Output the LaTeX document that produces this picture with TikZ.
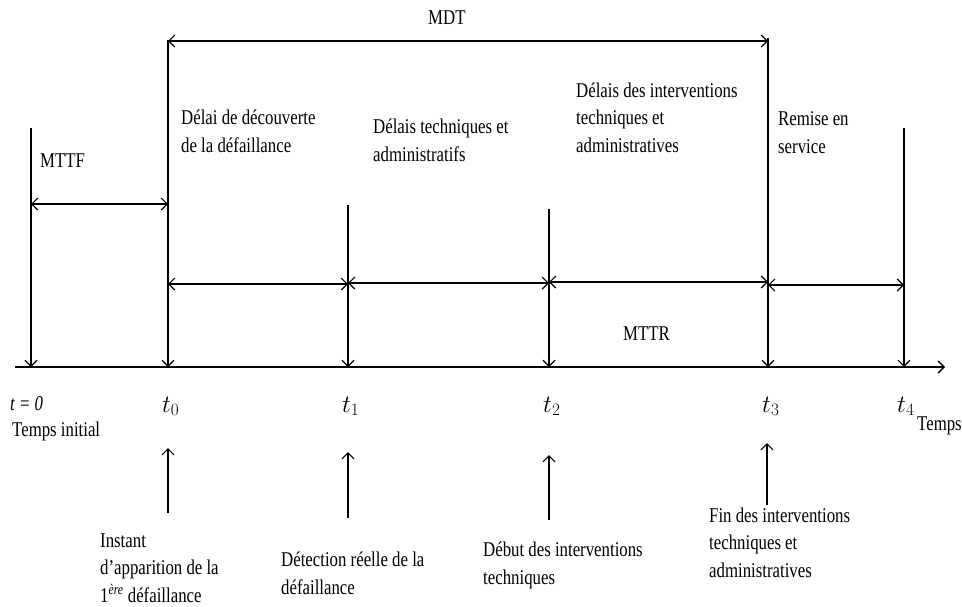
\documentclass[tikz,border=0pt]{standalone}
\usepackage{fontspec}
\setmainfont[FakeStretch=0.8]{Liberation Serif}
\usetikzlibrary{arrows.meta}

\tikzset{
  barb/.tip={Straight Barb[length=6pt,width=12pt]},
  axisline/.style={line width=1.3pt, -barb},
  tick/.style={line width=1.2pt, -barb},
  span/.style={line width=1.2pt, barb-barb},
  % multi-line labels are placed by the baseline of their last line
  lbl/.style={inner sep=0pt, anchor=base west, align=left,
              font=\fontsize{21}{27.5}\selectfont},
  tlbl/.style={lbl, font=\fontsize{24}{28}\selectfont},
}

\begin{document}
\begin{tikzpicture}[x=1pt,y=-1pt]
\useasboundingbox (0,0) rectangle (962,606);

% time axis
\coordinate (A0) at (15,367);
\coordinate (A1) at (945,367);
\draw[axisline] (A0) -- (A1);

% instants on the axis and the tops of their markers
\coordinate (T)  at (31,367);  \coordinate (Ttop)  at (31,128);
\coordinate (T0) at (168,367); \coordinate (T0top) at (168,40);
\coordinate (T1) at (348,367); \coordinate (T1top) at (348,205);
\coordinate (T2) at (549,367); \coordinate (T2top) at (549,209);
\coordinate (T3) at (768,367); \coordinate (T3top) at (768,38);
\coordinate (T4) at (904,367); \coordinate (T4top) at (904,128);

\draw[tick] (Ttop)  -- (T);
\draw[tick] (T0top) -- (T0);
\draw[tick] (T1top) -- (T1);
\draw[tick] (T2top) -- (T2);
\draw[tick] (T3top) -- (T3);
\draw[tick] (T4top) -- (T4);

% durations
\coordinate (mttfL) at (31,204);  \coordinate (mttfR) at (168,204);
\draw[span] (mttfL) -- (mttfR);
\coordinate (mdtL) at (168,41);   \coordinate (mdtR) at (768,41);
\draw[span] (mdtL) -- (mdtR);
\coordinate (sA0) at (168,284); \coordinate (sA1) at (348,284);
\coordinate (sB0) at (348,283); \coordinate (sB1) at (549,283);
\coordinate (sC0) at (549,282); \coordinate (sC1) at (768,282);
\coordinate (sD0) at (768,285); \coordinate (sD1) at (904,285);
\draw[span] (sA0) -- (sA1);
\draw[span] (sB0) -- (sB1);
\draw[span] (sC0) -- (sC1);
\draw[span] (sD0) -- (sD1);

% event pointers below the axis
\coordinate (u0a) at (168,513); \coordinate (u0b) at (168,448);
\coordinate (u1a) at (348,518); \coordinate (u1b) at (348,452);
\coordinate (u2a) at (549,520); \coordinate (u2b) at (549,455);
\coordinate (u3a) at (767,505); \coordinate (u3b) at (767,443);
\draw[tick] (u0a) -- (u0b);
\draw[tick] (u1a) -- (u1b);
\draw[tick] (u2a) -- (u2b);
\draw[tick] (u3a) -- (u3b);

% labels above the axis
\node[lbl] (mdt)  at (428,24)  {MDT};
\node[lbl] (mttf) at (40,167)  {MTTF};
\node[lbl] (d1)   at (181,152) {Délai de découverte\\de la défaillance};
\node[lbl] (d2)   at (373,161) {Délais techniques et\\administratifs};
\node[lbl] (d3)   at (576,152) {Délais des interventions\\techniques et\\administratives};
\node[lbl] (d4)   at (778,153) {Remise en\\service};
\node[lbl] (mttr) at (623,340) {MTTR};

% instant names
\node[lbl]  (l0)  at (10,410)  {\textit{t = 0}};
\node[lbl]  (l0b) at (12,436)  {Temps initial};
\node[tlbl] (lt0) at (162,412) {$t_0$};
\node[tlbl] (lt1) at (342,412) {$t_1$};
\node[tlbl] (lt2) at (543,412) {$t_2$};
\node[tlbl] (lt3) at (762,412) {$t_3$};
\node[tlbl] (lt4) at (897,412) {$t_4$};
\node[lbl]  (tps) at (917,430) {Temps};

% event descriptions
\node[lbl] (e0) at (100,602) {Instant\\d’apparition de la\\1\textsuperscript{\textit{ère}} défaillance};
\node[lbl] (e1) at (281,594) {Détection réelle de la\\défaillance};
\node[lbl] (e2) at (483,584) {Début des interventions\\techniques};
\node[lbl] (e3) at (709,577) {Fin des interventions\\techniques et\\administratives};
\end{tikzpicture}
\end{document}
